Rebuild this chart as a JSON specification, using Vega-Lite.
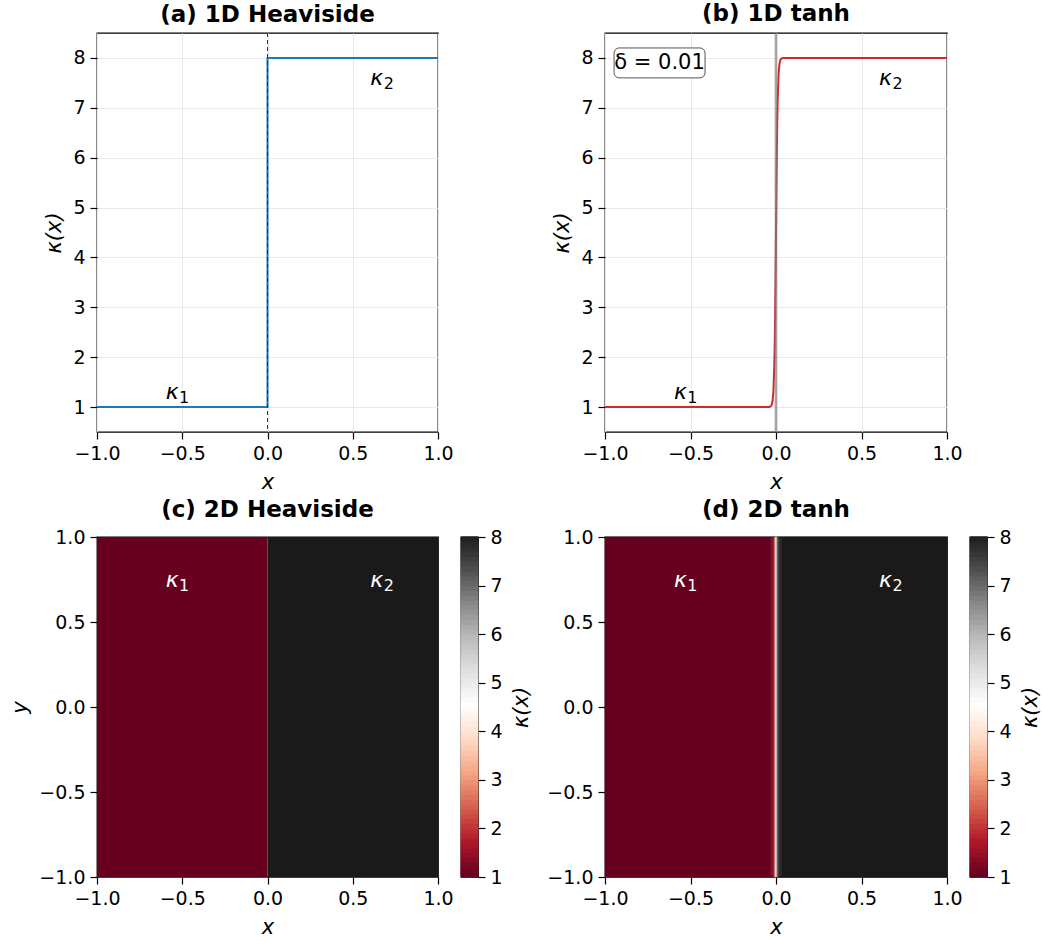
{
  "$schema": "https://vega.github.io/schema/vega-lite/v6.json",
  "background": "white",
  "padding": {"left": 9, "top": 2, "right": 5, "bottom": 5},
  "config": {
    "font": "DejaVu Sans",
    "view": {"stroke": "black", "strokeWidth": 1.3},
    "title": {"font": "DejaVu Sans", "fontSize": 23, "fontWeight": "bold", "color": "black", "offset": 6},
    "axis": {
      "labelFont": "DejaVu Sans", "labelFontSize": 19, "labelColor": "black", "labelFlush": false, "labelOverlap": false,
      "titleFont": "DejaVu Sans", "titleFontSize": 21, "titleFontWeight": "normal", "titleFontStyle": "italic", "titleColor": "black",
      "tickSize": 7, "tickWidth": 1.2, "tickColor": "black", "labelPadding": 5, "titlePadding": 8,
      "domain": false, "gridColor": "#e8e8e8", "gridWidth": 1
    }
  },
  "columns": 5,
  "spacing": {"row": 105, "column": 23},
  "bounds": "flush",
  "concat": [
    {
      "width": 341, "height": 399,
      "title": {"text": "(a) 1D Heaviside"},
      "layer": [
        {
          "data": {"values": [{"x": -1, "k": 1, "i": 0}, {"x": 0, "k": 1, "i": 1}, {"x": 0, "k": 8, "i": 2}, {"x": 1, "k": 8, "i": 3}]},
          "mark": {"type": "line", "color": "#1f77b4", "strokeWidth": 2},
          "encoding": {
            "x": {"field": "x", "type": "quantitative", "scale": {"domain": [-1, 1], "nice": false, "zero": false}, "axis": {"values": [-1, -0.5, 0, 0.5, 1], "format": ".1f", "title": "x", "grid": true}},
            "y": {"field": "k", "type": "quantitative", "scale": {"domain": [0.5, 8.5], "nice": false, "zero": false}, "axis": {"values": [1, 2, 3, 4, 5, 6, 7, 8], "title": "κ(x)", "grid": true}},
            "order": {"field": "i"}
          }
        },
        {
          "data": {"values": [{"x": 0}]},
          "mark": {"type": "rule", "color": "#333333", "strokeDash": [4, 3], "strokeWidth": 1},
          "encoding": {"x": {"field": "x", "type": "quantitative"}}
        },
        {
          "data": {"name": "lab1d"},
          "mark": {"type": "text", "fontSize": 22, "fontStyle": "italic", "color": "black", "dx": -5},
          "encoding": {"x": {"field": "x", "type": "quantitative"}, "y": {"field": "k", "type": "quantitative"}, "text": {"field": "base"}}
        },
        {
          "data": {"name": "lab1d"},
          "mark": {"type": "text", "fontSize": 16, "color": "black", "dx": 7, "dy": 6},
          "encoding": {"x": {"field": "x", "type": "quantitative"}, "y": {"field": "k", "type": "quantitative"}, "text": {"field": "sub"}}
        }
      ]
    },
    {"width": 17, "height": 10, "view": {"stroke": null}, "data": {"values": [{}]}, "mark": {"type": "point", "opacity": 0}, "encoding": {}},
    {"width": 81, "height": 10, "view": {"stroke": null}, "data": {"values": [{}]}, "mark": {"type": "point", "opacity": 0}, "encoding": {}},
    {
      "width": 342, "height": 399,
      "title": {"text": "(b) 1D tanh"},
      "layer": [
        {
          "data": {"values": [{"x": -1, "k": 1}, {"x": -0.05, "k": 1.0003}, {"x": -0.04, "k": 1.0023}, {"x": -0.03, "k": 1.017}, {"x": -0.025, "k": 1.047}, {"x": -0.02, "k": 1.126}, {"x": -0.015, "k": 1.332}, {"x": -0.01, "k": 1.834}, {"x": -0.0075, "k": 2.277}, {"x": -0.005, "k": 2.883}, {"x": -0.0025, "k": 3.643}, {"x": 0, "k": 4.5}, {"x": 0.0025, "k": 5.357}, {"x": 0.005, "k": 6.117}, {"x": 0.0075, "k": 6.723}, {"x": 0.01, "k": 7.166}, {"x": 0.015, "k": 7.668}, {"x": 0.02, "k": 7.874}, {"x": 0.025, "k": 7.953}, {"x": 0.03, "k": 7.983}, {"x": 0.04, "k": 7.9977}, {"x": 0.05, "k": 7.9997}, {"x": 1, "k": 8}]},
          "mark": {"type": "line", "color": "#d62728", "strokeWidth": 2},
          "encoding": {
            "x": {"field": "x", "type": "quantitative", "scale": {"domain": [-1, 1], "nice": false, "zero": false}, "axis": {"values": [-1, -0.5, 0, 0.5, 1], "format": ".1f", "title": "x", "grid": true}},
            "y": {"field": "k", "type": "quantitative", "scale": {"domain": [0.5, 8.5], "nice": false, "zero": false}, "axis": {"values": [1, 2, 3, 4, 5, 6, 7, 8], "title": "κ(x)", "grid": true}}
          }
        },
        {
          "data": {"values": [{"x": -0.01, "x2": 0.01}]},
          "mark": {"type": "rect", "color": "gray", "opacity": 0.35},
          "encoding": {"x": {"field": "x", "type": "quantitative"}, "x2": {"field": "x2"}}
        },
        {
          "data": {"values": [{"x": 0}]},
          "mark": {"type": "rule", "color": "gray", "opacity": 0.5, "strokeWidth": 2},
          "encoding": {"x": {"field": "x", "type": "quantitative"}}
        },
        {
          "data": {"values": [{"x": -0.947, "x2": -0.415, "k": 8.2, "k2": 7.6}]},
          "mark": {"type": "rect", "fill": "white", "stroke": "#555555", "strokeWidth": 1, "cornerRadius": 5},
          "encoding": {"x": {"field": "x", "type": "quantitative"}, "x2": {"field": "x2"}, "y": {"field": "k", "type": "quantitative"}, "y2": {"field": "k2"}}
        },
        {
          "data": {"values": [{"x": -0.681, "k": 7.9, "label": "δ = 0.01"}]},
          "mark": {"type": "text", "fontSize": 21, "color": "black", "baseline": "middle"},
          "encoding": {"x": {"field": "x", "type": "quantitative"}, "y": {"field": "k", "type": "quantitative"}, "text": {"field": "label"}}
        },
        {
          "data": {"name": "lab1d"},
          "mark": {"type": "text", "fontSize": 22, "fontStyle": "italic", "color": "black", "dx": -5},
          "encoding": {"x": {"field": "x", "type": "quantitative"}, "y": {"field": "k", "type": "quantitative"}, "text": {"field": "base"}}
        },
        {
          "data": {"name": "lab1d"},
          "mark": {"type": "text", "fontSize": 16, "color": "black", "dx": 7, "dy": 6},
          "encoding": {"x": {"field": "x", "type": "quantitative"}, "y": {"field": "k", "type": "quantitative"}, "text": {"field": "sub"}}
        }
      ]
    },
    {"width": 17, "height": 10, "view": {"stroke": null}, "data": {"values": [{}]}, "mark": {"type": "point", "opacity": 0}, "encoding": {}},
    {
      "width": 341, "height": 340,
      "title": {"text": "(c) 2D Heaviside"},
      "layer": [
        {
          "data": {"values": [{"x": -1, "x2": 0, "y": -1, "y2": 1, "k": 1}, {"x": 0, "x2": 1, "y": -1, "y2": 1, "k": 8}]},
          "mark": {"type": "rect"},
          "encoding": {
            "x": {"field": "x", "type": "quantitative", "scale": {"domain": [-1, 1], "nice": false, "zero": false}, "axis": {"values": [-1, -0.5, 0, 0.5, 1], "format": ".1f", "title": "x", "grid": false}},
            "x2": {"field": "x2"},
            "y": {"field": "y", "type": "quantitative", "scale": {"domain": [-1, 1], "nice": false, "zero": false}, "axis": {"values": [-1, -0.5, 0, 0.5, 1], "format": ".1f", "title": "y", "grid": false}},
            "y2": {"field": "y2"},
            "color": {"field": "k", "type": "quantitative", "scale": {"domain": [1, 1.7, 2.4, 3.1, 3.8, 4.5, 5.2, 5.9, 6.6, 7.3, 8], "range": ["#67001f", "#b2182b", "#d6604d", "#f4a582", "#fddbc7", "#ffffff", "#e0e0e0", "#bababa", "#878787", "#4d4d4d", "#1a1a1a"], "interpolate": "rgb"}, "legend": null}
          }
        },
        {
          "data": {"name": "lab2d"},
          "mark": {"type": "text", "fontSize": 22, "fontStyle": "italic", "color": "white", "dx": -5},
          "encoding": {"x": {"field": "x", "type": "quantitative"}, "y": {"field": "y", "type": "quantitative"}, "text": {"field": "base"}}
        },
        {
          "data": {"name": "lab2d"},
          "mark": {"type": "text", "fontSize": 16, "color": "white", "dx": 7, "dy": 6},
          "encoding": {"x": {"field": "x", "type": "quantitative"}, "y": {"field": "y", "type": "quantitative"}, "text": {"field": "sub"}}
        }
      ]
    },
    {
      "width": 17, "height": 340,
      "data": {"name": "cbar"},
      "mark": {"type": "rect", "strokeWidth": 1},
      "encoding": {
        "y": {"field": "lo", "type": "quantitative", "scale": {"domain": [1, 8], "nice": false, "zero": false}, "axis": {"orient": "right", "values": [1, 2, 3, 4, 5, 6, 7, 8], "title": "κ(x)", "titleAngle": 270, "titleBaseline": "top", "grid": false}},
        "y2": {"field": "hi"},
        "color": {"field": "lo", "type": "quantitative", "scale": {"domain": [1, 1.7, 2.4, 3.1, 3.8, 4.5, 5.2, 5.9, 6.6, 7.3, 8], "range": ["#67001f", "#b2182b", "#d6604d", "#f4a582", "#fddbc7", "#ffffff", "#e0e0e0", "#bababa", "#878787", "#4d4d4d", "#1a1a1a"], "interpolate": "rgb"}, "legend": null},
        "stroke": {"field": "lo", "type": "quantitative", "scale": {"domain": [1, 1.7, 2.4, 3.1, 3.8, 4.5, 5.2, 5.9, 6.6, 7.3, 8], "range": ["#67001f", "#b2182b", "#d6604d", "#f4a582", "#fddbc7", "#ffffff", "#e0e0e0", "#bababa", "#878787", "#4d4d4d", "#1a1a1a"], "interpolate": "rgb"}, "legend": null}
      }
    },
    {"width": 81, "height": 10, "view": {"stroke": null}, "data": {"values": [{}]}, "mark": {"type": "point", "opacity": 0}, "encoding": {}},
    {
      "width": 342, "height": 340,
      "title": {"text": "(d) 2D tanh"},
      "layer": [
        {
          "data": {"values": [
            {"x": -1, "x2": -0.03, "y": -1, "y2": 1, "k": 1.0},
            {"x": -0.03, "x2": -0.025, "y": -1, "y2": 1, "k": 1.029},
            {"x": -0.025, "x2": -0.02, "y": -1, "y2": 1, "k": 1.077},
            {"x": -0.02, "x2": -0.015, "y": -1, "y2": 1, "k": 1.205},
            {"x": -0.015, "x2": -0.01, "y": -1, "y2": 1, "k": 1.531},
            {"x": -0.01, "x2": -0.005, "y": -1, "y2": 1, "k": 2.277},
            {"x": -0.005, "x2": 0, "y": -1, "y2": 1, "k": 3.643},
            {"x": 0, "x2": 0.005, "y": -1, "y2": 1, "k": 5.357},
            {"x": 0.005, "x2": 0.01, "y": -1, "y2": 1, "k": 6.723},
            {"x": 0.01, "x2": 0.015, "y": -1, "y2": 1, "k": 7.469},
            {"x": 0.015, "x2": 0.02, "y": -1, "y2": 1, "k": 7.795},
            {"x": 0.02, "x2": 0.025, "y": -1, "y2": 1, "k": 7.923},
            {"x": 0.025, "x2": 0.03, "y": -1, "y2": 1, "k": 7.971},
            {"x": 0.03, "x2": 1, "y": -1, "y2": 1, "k": 8.0}
          ]},
          "mark": {"type": "rect", "strokeWidth": 0.4},
          "encoding": {
            "x": {"field": "x", "type": "quantitative", "scale": {"domain": [-1, 1], "nice": false, "zero": false}, "axis": {"values": [-1, -0.5, 0, 0.5, 1], "format": ".1f", "title": "x", "grid": false}},
            "x2": {"field": "x2"},
            "y": {"field": "y", "type": "quantitative", "scale": {"domain": [-1, 1], "nice": false, "zero": false}, "axis": {"values": [-1, -0.5, 0, 0.5, 1], "format": ".1f", "title": null, "grid": false}},
            "y2": {"field": "y2"},
            "color": {"field": "k", "type": "quantitative", "scale": {"domain": [1, 1.7, 2.4, 3.1, 3.8, 4.5, 5.2, 5.9, 6.6, 7.3, 8], "range": ["#67001f", "#b2182b", "#d6604d", "#f4a582", "#fddbc7", "#ffffff", "#e0e0e0", "#bababa", "#878787", "#4d4d4d", "#1a1a1a"], "interpolate": "rgb"}, "legend": null},
            "stroke": {"field": "k", "type": "quantitative", "scale": {"domain": [1, 1.7, 2.4, 3.1, 3.8, 4.5, 5.2, 5.9, 6.6, 7.3, 8], "range": ["#67001f", "#b2182b", "#d6604d", "#f4a582", "#fddbc7", "#ffffff", "#e0e0e0", "#bababa", "#878787", "#4d4d4d", "#1a1a1a"], "interpolate": "rgb"}, "legend": null}
          }
        },
        {
          "data": {"name": "lab2d"},
          "mark": {"type": "text", "fontSize": 22, "fontStyle": "italic", "color": "white", "dx": -5},
          "encoding": {"x": {"field": "x", "type": "quantitative"}, "y": {"field": "y", "type": "quantitative"}, "text": {"field": "base"}}
        },
        {
          "data": {"name": "lab2d"},
          "mark": {"type": "text", "fontSize": 16, "color": "white", "dx": 7, "dy": 6},
          "encoding": {"x": {"field": "x", "type": "quantitative"}, "y": {"field": "y", "type": "quantitative"}, "text": {"field": "sub"}}
        }
      ]
    },
    {
      "width": 17, "height": 340,
      "data": {"name": "cbar"},
      "mark": {"type": "rect", "strokeWidth": 1},
      "encoding": {
        "y": {"field": "lo", "type": "quantitative", "scale": {"domain": [1, 8], "nice": false, "zero": false}, "axis": {"orient": "right", "values": [1, 2, 3, 4, 5, 6, 7, 8], "title": "κ(x)", "titleAngle": 270, "titleBaseline": "top", "grid": false}},
        "y2": {"field": "hi"},
        "color": {"field": "lo", "type": "quantitative", "scale": {"domain": [1, 1.7, 2.4, 3.1, 3.8, 4.5, 5.2, 5.9, 6.6, 7.3, 8], "range": ["#67001f", "#b2182b", "#d6604d", "#f4a582", "#fddbc7", "#ffffff", "#e0e0e0", "#bababa", "#878787", "#4d4d4d", "#1a1a1a"], "interpolate": "rgb"}, "legend": null},
        "stroke": {"field": "lo", "type": "quantitative", "scale": {"domain": [1, 1.7, 2.4, 3.1, 3.8, 4.5, 5.2, 5.9, 6.6, 7.3, 8], "range": ["#67001f", "#b2182b", "#d6604d", "#f4a582", "#fddbc7", "#ffffff", "#e0e0e0", "#bababa", "#878787", "#4d4d4d", "#1a1a1a"], "interpolate": "rgb"}, "legend": null}
      }
    }
  ],
  "datasets": {
    "lab1d": [{"x": -0.53, "k": 1.3, "base": "κ", "sub": "1"}, {"x": 0.67, "k": 7.6, "base": "κ", "sub": "2"}],
    "lab2d": [{"x": -0.53, "y": 0.75, "base": "κ", "sub": "1"}, {"x": 0.67, "y": 0.75, "base": "κ", "sub": "2"}],
    "cbar": [
      {"lo": 1.0, "hi": 1.1}, {"lo": 1.1, "hi": 1.2}, {"lo": 1.2, "hi": 1.3}, {"lo": 1.3, "hi": 1.4}, {"lo": 1.4, "hi": 1.5},
      {"lo": 1.5, "hi": 1.6}, {"lo": 1.6, "hi": 1.7}, {"lo": 1.7, "hi": 1.8}, {"lo": 1.8, "hi": 1.9}, {"lo": 1.9, "hi": 2.0},
      {"lo": 2.0, "hi": 2.1}, {"lo": 2.1, "hi": 2.2}, {"lo": 2.2, "hi": 2.3}, {"lo": 2.3, "hi": 2.4}, {"lo": 2.4, "hi": 2.5},
      {"lo": 2.5, "hi": 2.6}, {"lo": 2.6, "hi": 2.7}, {"lo": 2.7, "hi": 2.8}, {"lo": 2.8, "hi": 2.9}, {"lo": 2.9, "hi": 3.0},
      {"lo": 3.0, "hi": 3.1}, {"lo": 3.1, "hi": 3.2}, {"lo": 3.2, "hi": 3.3}, {"lo": 3.3, "hi": 3.4}, {"lo": 3.4, "hi": 3.5},
      {"lo": 3.5, "hi": 3.6}, {"lo": 3.6, "hi": 3.7}, {"lo": 3.7, "hi": 3.8}, {"lo": 3.8, "hi": 3.9}, {"lo": 3.9, "hi": 4.0},
      {"lo": 4.0, "hi": 4.1}, {"lo": 4.1, "hi": 4.2}, {"lo": 4.2, "hi": 4.3}, {"lo": 4.3, "hi": 4.4}, {"lo": 4.4, "hi": 4.5},
      {"lo": 4.5, "hi": 4.6}, {"lo": 4.6, "hi": 4.7}, {"lo": 4.7, "hi": 4.8}, {"lo": 4.8, "hi": 4.9}, {"lo": 4.9, "hi": 5.0},
      {"lo": 5.0, "hi": 5.1}, {"lo": 5.1, "hi": 5.2}, {"lo": 5.2, "hi": 5.3}, {"lo": 5.3, "hi": 5.4}, {"lo": 5.4, "hi": 5.5},
      {"lo": 5.5, "hi": 5.6}, {"lo": 5.6, "hi": 5.7}, {"lo": 5.7, "hi": 5.8}, {"lo": 5.8, "hi": 5.9}, {"lo": 5.9, "hi": 6.0},
      {"lo": 6.0, "hi": 6.1}, {"lo": 6.1, "hi": 6.2}, {"lo": 6.2, "hi": 6.3}, {"lo": 6.3, "hi": 6.4}, {"lo": 6.4, "hi": 6.5},
      {"lo": 6.5, "hi": 6.6}, {"lo": 6.6, "hi": 6.7}, {"lo": 6.7, "hi": 6.8}, {"lo": 6.8, "hi": 6.9}, {"lo": 6.9, "hi": 7.0},
      {"lo": 7.0, "hi": 7.1}, {"lo": 7.1, "hi": 7.2}, {"lo": 7.2, "hi": 7.3}, {"lo": 7.3, "hi": 7.4}, {"lo": 7.4, "hi": 7.5},
      {"lo": 7.5, "hi": 7.6}, {"lo": 7.6, "hi": 7.7}, {"lo": 7.7, "hi": 7.8}, {"lo": 7.8, "hi": 7.9}, {"lo": 7.9, "hi": 8.0}
    ]
  }
}
